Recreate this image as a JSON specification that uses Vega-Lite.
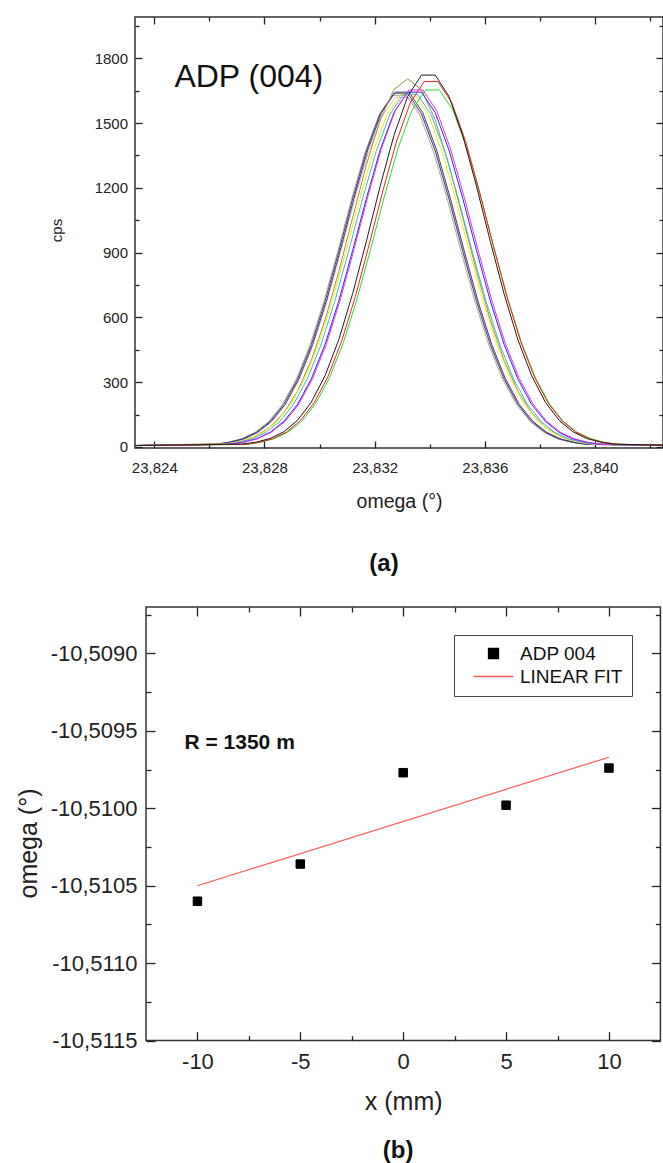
{
  "$schema": "https://vega.github.io/schema/vega-lite/v6.json",
  "background": "white",
  "padding": {"left": 12, "top": 15, "right": 0, "bottom": 0},
  "config": {
    "locale": {"number": {"decimal": ",", "thousands": ".", "grouping": [3], "currency": ["", ""], "minus": "-"}},
    "font": "Liberation Sans",
    "view": {"stroke": "#333333", "strokeWidth": 1.5},
    "axis": {"domain": false, "grid": false, "labelFont": "Liberation Sans", "titleFont": "Liberation Sans", "labelColor": "#222222", "titleColor": "#222222", "tickColor": "#222222", "tickWidth": 1.3, "titleFontWeight": "normal", "labelOverlap": false, "labelFlush": false, "labelBound": false}
  },
  "datasets": {
    "curves": [
      {"s":"gray","x":23.8225,"y":5},{"s":"gray","x":23.82615,"y":12},{"s":"gray","x":23.82665,"y":21},{"s":"gray","x":23.82715,"y":37},{"s":"gray","x":23.82765,"y":67},{"s":"gray","x":23.82815,"y":117},{"s":"gray","x":23.82865,"y":196},{"s":"gray","x":23.82915,"y":312},{"s":"gray","x":23.82965,"y":470},{"s":"gray","x":23.83015,"y":670},{"s":"gray","x":23.83065,"y":900},{"s":"gray","x":23.83115,"y":1141},{"s":"gray","x":23.83165,"y":1363},{"s":"gray","x":23.83215,"y":1534},{"s":"gray","x":23.83265,"y":1628},{"s":"gray","x":23.83315,"y":1628},{"s":"gray","x":23.83365,"y":1534},{"s":"gray","x":23.83415,"y":1363},{"s":"gray","x":23.83465,"y":1141},{"s":"gray","x":23.83515,"y":900},{"s":"gray","x":23.83565,"y":670},{"s":"gray","x":23.83615,"y":470},{"s":"gray","x":23.83665,"y":312},{"s":"gray","x":23.83715,"y":196},{"s":"gray","x":23.83765,"y":117},{"s":"gray","x":23.83815,"y":67},{"s":"gray","x":23.83865,"y":37},{"s":"gray","x":23.83915,"y":21},{"s":"gray","x":23.83965,"y":12},{"s":"gray","x":23.8435,"y":5},
      {"s":"pink","x":23.8225,"y":5},{"s":"pink","x":23.82625,"y":12},{"s":"pink","x":23.82675,"y":21},{"s":"pink","x":23.82725,"y":37},{"s":"pink","x":23.82775,"y":66},{"s":"pink","x":23.82825,"y":116},{"s":"pink","x":23.82875,"y":194},{"s":"pink","x":23.82925,"y":310},{"s":"pink","x":23.82975,"y":467},{"s":"pink","x":23.83025,"y":666},{"s":"pink","x":23.83075,"y":895},{"s":"pink","x":23.83125,"y":1134},{"s":"pink","x":23.83175,"y":1354},{"s":"pink","x":23.83225,"y":1525},{"s":"pink","x":23.83275,"y":1618},{"s":"pink","x":23.83325,"y":1618},{"s":"pink","x":23.83375,"y":1525},{"s":"pink","x":23.83425,"y":1354},{"s":"pink","x":23.83475,"y":1134},{"s":"pink","x":23.83525,"y":895},{"s":"pink","x":23.83575,"y":666},{"s":"pink","x":23.83625,"y":467},{"s":"pink","x":23.83675,"y":310},{"s":"pink","x":23.83725,"y":194},{"s":"pink","x":23.83775,"y":116},{"s":"pink","x":23.83825,"y":66},{"s":"pink","x":23.83875,"y":37},{"s":"pink","x":23.83925,"y":21},{"s":"pink","x":23.83975,"y":12},{"s":"pink","x":23.8435,"y":5},
      {"s":"dkgray","x":23.8225,"y":5},{"s":"dkgray","x":23.8262,"y":12},{"s":"dkgray","x":23.8267,"y":21},{"s":"dkgray","x":23.8272,"y":37},{"s":"dkgray","x":23.8277,"y":67},{"s":"dkgray","x":23.8282,"y":117},{"s":"dkgray","x":23.8287,"y":197},{"s":"dkgray","x":23.8292,"y":314},{"s":"dkgray","x":23.8297,"y":473},{"s":"dkgray","x":23.8302,"y":674},{"s":"dkgray","x":23.8307,"y":906},{"s":"dkgray","x":23.8312,"y":1148},{"s":"dkgray","x":23.8317,"y":1371},{"s":"dkgray","x":23.8322,"y":1544},{"s":"dkgray","x":23.8327,"y":1638},{"s":"dkgray","x":23.8332,"y":1638},{"s":"dkgray","x":23.8337,"y":1544},{"s":"dkgray","x":23.8342,"y":1371},{"s":"dkgray","x":23.8347,"y":1148},{"s":"dkgray","x":23.8352,"y":906},{"s":"dkgray","x":23.8357,"y":674},{"s":"dkgray","x":23.8362,"y":473},{"s":"dkgray","x":23.8367,"y":314},{"s":"dkgray","x":23.8372,"y":197},{"s":"dkgray","x":23.8377,"y":117},{"s":"dkgray","x":23.8382,"y":67},{"s":"dkgray","x":23.8387,"y":37},{"s":"dkgray","x":23.8392,"y":21},{"s":"dkgray","x":23.8397,"y":12},{"s":"dkgray","x":23.8435,"y":5},
      {"s":"navy","x":23.8225,"y":5},{"s":"navy","x":23.82625,"y":12},{"s":"navy","x":23.82675,"y":21},{"s":"navy","x":23.82725,"y":37},{"s":"navy","x":23.82775,"y":67},{"s":"navy","x":23.82825,"y":118},{"s":"navy","x":23.82875,"y":197},{"s":"navy","x":23.82925,"y":315},{"s":"navy","x":23.82975,"y":475},{"s":"navy","x":23.83025,"y":676},{"s":"navy","x":23.83075,"y":909},{"s":"navy","x":23.83125,"y":1151},{"s":"navy","x":23.83175,"y":1375},{"s":"navy","x":23.83225,"y":1548},{"s":"navy","x":23.83275,"y":1643},{"s":"navy","x":23.83325,"y":1643},{"s":"navy","x":23.83375,"y":1548},{"s":"navy","x":23.83425,"y":1375},{"s":"navy","x":23.83475,"y":1151},{"s":"navy","x":23.83525,"y":909},{"s":"navy","x":23.83575,"y":676},{"s":"navy","x":23.83625,"y":475},{"s":"navy","x":23.83675,"y":315},{"s":"navy","x":23.83725,"y":197},{"s":"navy","x":23.83775,"y":118},{"s":"navy","x":23.83825,"y":67},{"s":"navy","x":23.83875,"y":37},{"s":"navy","x":23.83925,"y":21},{"s":"navy","x":23.83975,"y":12},{"s":"navy","x":23.8435,"y":5},
      {"s":"olive","x":23.8225,"y":5},{"s":"olive","x":23.8267,"y":16},{"s":"olive","x":23.8272,"y":28},{"s":"olive","x":23.8277,"y":51},{"s":"olive","x":23.8282,"y":92},{"s":"olive","x":23.8287,"y":158},{"s":"olive","x":23.8292,"y":258},{"s":"olive","x":23.8297,"y":401},{"s":"olive","x":23.8302,"y":588},{"s":"olive","x":23.8307,"y":813},{"s":"olive","x":23.8312,"y":1061},{"s":"olive","x":23.8317,"y":1306},{"s":"olive","x":23.8322,"y":1514},{"s":"olive","x":23.8327,"y":1655},{"s":"olive","x":23.8332,"y":1705},{"s":"olive","x":23.8337,"y":1655},{"s":"olive","x":23.8342,"y":1514},{"s":"olive","x":23.8347,"y":1306},{"s":"olive","x":23.8352,"y":1061},{"s":"olive","x":23.8357,"y":813},{"s":"olive","x":23.8362,"y":588},{"s":"olive","x":23.8367,"y":401},{"s":"olive","x":23.8372,"y":258},{"s":"olive","x":23.8377,"y":158},{"s":"olive","x":23.8382,"y":92},{"s":"olive","x":23.8387,"y":51},{"s":"olive","x":23.8392,"y":28},{"s":"olive","x":23.8397,"y":16},{"s":"olive","x":23.8435,"y":5},
      {"s":"yellow","x":23.8225,"y":5},{"s":"yellow","x":23.82645,"y":12},{"s":"yellow","x":23.82695,"y":21},{"s":"yellow","x":23.82745,"y":37},{"s":"yellow","x":23.82795,"y":67},{"s":"yellow","x":23.82845,"y":117},{"s":"yellow","x":23.82895,"y":196},{"s":"yellow","x":23.82945,"y":313},{"s":"yellow","x":23.82995,"y":472},{"s":"yellow","x":23.83045,"y":672},{"s":"yellow","x":23.83095,"y":903},{"s":"yellow","x":23.83145,"y":1144},{"s":"yellow","x":23.83195,"y":1367},{"s":"yellow","x":23.83245,"y":1539},{"s":"yellow","x":23.83295,"y":1633},{"s":"yellow","x":23.83345,"y":1633},{"s":"yellow","x":23.83395,"y":1539},{"s":"yellow","x":23.83445,"y":1367},{"s":"yellow","x":23.83495,"y":1144},{"s":"yellow","x":23.83545,"y":903},{"s":"yellow","x":23.83595,"y":672},{"s":"yellow","x":23.83645,"y":472},{"s":"yellow","x":23.83695,"y":313},{"s":"yellow","x":23.83745,"y":196},{"s":"yellow","x":23.83795,"y":117},{"s":"yellow","x":23.83845,"y":67},{"s":"yellow","x":23.83895,"y":37},{"s":"yellow","x":23.83945,"y":21},{"s":"yellow","x":23.83995,"y":12},{"s":"yellow","x":23.8435,"y":5},
      {"s":"cyan","x":23.8225,"y":5},{"s":"cyan","x":23.82655,"y":12},{"s":"cyan","x":23.82705,"y":21},{"s":"cyan","x":23.82755,"y":37},{"s":"cyan","x":23.82805,"y":67},{"s":"cyan","x":23.82855,"y":117},{"s":"cyan","x":23.82905,"y":196},{"s":"cyan","x":23.82955,"y":313},{"s":"cyan","x":23.83005,"y":472},{"s":"cyan","x":23.83055,"y":672},{"s":"cyan","x":23.83105,"y":903},{"s":"cyan","x":23.83155,"y":1144},{"s":"cyan","x":23.83205,"y":1367},{"s":"cyan","x":23.83255,"y":1539},{"s":"cyan","x":23.83305,"y":1633},{"s":"cyan","x":23.83355,"y":1633},{"s":"cyan","x":23.83405,"y":1539},{"s":"cyan","x":23.83455,"y":1367},{"s":"cyan","x":23.83505,"y":1144},{"s":"cyan","x":23.83555,"y":903},{"s":"cyan","x":23.83605,"y":672},{"s":"cyan","x":23.83655,"y":472},{"s":"cyan","x":23.83705,"y":313},{"s":"cyan","x":23.83755,"y":196},{"s":"cyan","x":23.83805,"y":117},{"s":"cyan","x":23.83855,"y":67},{"s":"cyan","x":23.83905,"y":37},{"s":"cyan","x":23.83955,"y":21},{"s":"cyan","x":23.84005,"y":12},{"s":"cyan","x":23.8435,"y":5},
      {"s":"blue","x":23.8225,"y":5},{"s":"blue","x":23.8267,"y":12},{"s":"blue","x":23.8272,"y":21},{"s":"blue","x":23.8277,"y":37},{"s":"blue","x":23.8282,"y":67},{"s":"blue","x":23.8287,"y":118},{"s":"blue","x":23.8292,"y":197},{"s":"blue","x":23.8297,"y":315},{"s":"blue","x":23.8302,"y":475},{"s":"blue","x":23.8307,"y":676},{"s":"blue","x":23.8312,"y":909},{"s":"blue","x":23.8317,"y":1151},{"s":"blue","x":23.8322,"y":1375},{"s":"blue","x":23.8327,"y":1548},{"s":"blue","x":23.8332,"y":1643},{"s":"blue","x":23.8337,"y":1643},{"s":"blue","x":23.8342,"y":1548},{"s":"blue","x":23.8347,"y":1375},{"s":"blue","x":23.8352,"y":1151},{"s":"blue","x":23.8357,"y":909},{"s":"blue","x":23.8362,"y":676},{"s":"blue","x":23.8367,"y":475},{"s":"blue","x":23.8372,"y":315},{"s":"blue","x":23.8377,"y":197},{"s":"blue","x":23.8382,"y":118},{"s":"blue","x":23.8387,"y":67},{"s":"blue","x":23.8392,"y":37},{"s":"blue","x":23.8397,"y":21},{"s":"blue","x":23.8402,"y":12},{"s":"blue","x":23.8435,"y":5},
      {"s":"magenta","x":23.8225,"y":5},{"s":"magenta","x":23.82675,"y":12},{"s":"magenta","x":23.82725,"y":21},{"s":"magenta","x":23.82775,"y":38},{"s":"magenta","x":23.82825,"y":68},{"s":"magenta","x":23.82875,"y":118},{"s":"magenta","x":23.82925,"y":199},{"s":"magenta","x":23.82975,"y":317},{"s":"magenta","x":23.83025,"y":477},{"s":"magenta","x":23.83075,"y":680},{"s":"magenta","x":23.83125,"y":914},{"s":"magenta","x":23.83175,"y":1158},{"s":"magenta","x":23.83225,"y":1383},{"s":"magenta","x":23.83275,"y":1558},{"s":"magenta","x":23.83325,"y":1653},{"s":"magenta","x":23.83375,"y":1653},{"s":"magenta","x":23.83425,"y":1558},{"s":"magenta","x":23.83475,"y":1383},{"s":"magenta","x":23.83525,"y":1158},{"s":"magenta","x":23.83575,"y":914},{"s":"magenta","x":23.83625,"y":680},{"s":"magenta","x":23.83675,"y":477},{"s":"magenta","x":23.83725,"y":317},{"s":"magenta","x":23.83775,"y":199},{"s":"magenta","x":23.83825,"y":118},{"s":"magenta","x":23.83875,"y":68},{"s":"magenta","x":23.83925,"y":38},{"s":"magenta","x":23.83975,"y":21},{"s":"magenta","x":23.84025,"y":12},{"s":"magenta","x":23.8435,"y":5},
      {"s":"green","x":23.8225,"y":5},{"s":"green","x":23.82735,"y":12},{"s":"green","x":23.82785,"y":21},{"s":"green","x":23.82835,"y":38},{"s":"green","x":23.82885,"y":68},{"s":"green","x":23.82935,"y":118},{"s":"green","x":23.82985,"y":199},{"s":"green","x":23.83035,"y":317},{"s":"green","x":23.83085,"y":477},{"s":"green","x":23.83135,"y":680},{"s":"green","x":23.83185,"y":914},{"s":"green","x":23.83235,"y":1158},{"s":"green","x":23.83285,"y":1383},{"s":"green","x":23.83335,"y":1558},{"s":"green","x":23.83385,"y":1653},{"s":"green","x":23.83435,"y":1653},{"s":"green","x":23.83485,"y":1558},{"s":"green","x":23.83535,"y":1383},{"s":"green","x":23.83585,"y":1158},{"s":"green","x":23.83635,"y":914},{"s":"green","x":23.83685,"y":680},{"s":"green","x":23.83735,"y":477},{"s":"green","x":23.83785,"y":317},{"s":"green","x":23.83835,"y":199},{"s":"green","x":23.83885,"y":118},{"s":"green","x":23.83935,"y":68},{"s":"green","x":23.83985,"y":38},{"s":"green","x":23.84035,"y":21},{"s":"green","x":23.84085,"y":12},{"s":"green","x":23.8435,"y":5},
      {"s":"red","x":23.8225,"y":5},{"s":"red","x":23.8273,"y":12},{"s":"red","x":23.8278,"y":21},{"s":"red","x":23.8283,"y":38},{"s":"red","x":23.8288,"y":69},{"s":"red","x":23.8293,"y":121},{"s":"red","x":23.8298,"y":203},{"s":"red","x":23.8303,"y":324},{"s":"red","x":23.8308,"y":489},{"s":"red","x":23.8313,"y":696},{"s":"red","x":23.8318,"y":936},{"s":"red","x":23.8323,"y":1186},{"s":"red","x":23.8328,"y":1417},{"s":"red","x":23.8333,"y":1595},{"s":"red","x":23.8338,"y":1692},{"s":"red","x":23.8343,"y":1692},{"s":"red","x":23.8348,"y":1595},{"s":"red","x":23.8353,"y":1417},{"s":"red","x":23.8358,"y":1186},{"s":"red","x":23.8363,"y":936},{"s":"red","x":23.8368,"y":696},{"s":"red","x":23.8373,"y":489},{"s":"red","x":23.8378,"y":324},{"s":"red","x":23.8383,"y":203},{"s":"red","x":23.8388,"y":121},{"s":"red","x":23.8393,"y":69},{"s":"red","x":23.8398,"y":38},{"s":"red","x":23.8403,"y":21},{"s":"red","x":23.8408,"y":12},{"s":"red","x":23.8435,"y":5},
      {"s":"black","x":23.8225,"y":5},{"s":"black","x":23.8272,"y":13},{"s":"black","x":23.8277,"y":22},{"s":"black","x":23.8282,"y":39},{"s":"black","x":23.8287,"y":70},{"s":"black","x":23.8292,"y":123},{"s":"black","x":23.8297,"y":207},{"s":"black","x":23.8302,"y":330},{"s":"black","x":23.8307,"y":497},{"s":"black","x":23.8312,"y":709},{"s":"black","x":23.8317,"y":952},{"s":"black","x":23.8322,"y":1207},{"s":"black","x":23.8327,"y":1442},{"s":"black","x":23.8332,"y":1623},{"s":"black","x":23.8337,"y":1722},{"s":"black","x":23.8342,"y":1722},{"s":"black","x":23.8347,"y":1623},{"s":"black","x":23.8352,"y":1442},{"s":"black","x":23.8357,"y":1207},{"s":"black","x":23.8362,"y":952},{"s":"black","x":23.8367,"y":709},{"s":"black","x":23.8372,"y":497},{"s":"black","x":23.8377,"y":330},{"s":"black","x":23.8382,"y":207},{"s":"black","x":23.8387,"y":123},{"s":"black","x":23.8392,"y":70},{"s":"black","x":23.8397,"y":39},{"s":"black","x":23.8402,"y":22},{"s":"black","x":23.8407,"y":13},{"s":"black","x":23.8435,"y":5}
    ],
    "points": [
      {"x": -10, "omega": -10.5106, "series": "ADP 004"},
      {"x": -5, "omega": -10.51036, "series": "ADP 004"},
      {"x": 0, "omega": -10.50977, "series": "ADP 004"},
      {"x": 5, "omega": -10.50998, "series": "ADP 004"},
      {"x": 10, "omega": -10.50974, "series": "ADP 004"}
    ],
    "fit": [
      {"x": -10, "omega": -10.5105, "series": "LINEAR FIT"},
      {"x": 10, "omega": -10.50967, "series": "LINEAR FIT"}
    ]
  },
  "resolve": {"scale": {"color": "independent"}, "legend": {"color": "independent"}},
  "spacing": 25,
  "vconcat": [
    {
      "spacing": 0,
      "hconcat": [
        {
          "width": 34, "height": 10,
          "data": {"values": []},
          "mark": "point",
          "view": {"stroke": "transparent", "fill": null}
        },
        {
          "width": 528, "height": 431,
          "title": {"text": "(a)", "orient": "bottom", "anchor": "middle", "frame": "group", "dx": -15, "offset": 41, "fontSize": 24, "fontWeight": "bold", "font": "Liberation Sans", "color": "#111111"},
          "layer": [
            {
              "data": {"name": "curves"},
              "mark": {"type": "line", "strokeWidth": 1, "clip": true},
              "encoding": {
                "x": {"field": "x", "type": "quantitative", "scale": {"domain": [23.8233, 23.84247], "nice": false, "zero": false},
                  "axis": {"orient": "bottom", "values": [23.824, 23.826, 23.828, 23.83, 23.832, 23.834, 23.836, 23.838, 23.84, 23.842], "format": ".3f",
                    "labelExpr": "round(datum.value*1000) % 4 == 0 ? datum.label : ''",
                    "tickSize": {"condition": {"test": "round(datum.value*1000) % 4 == 0", "value": -7}, "value": -4},
                    "labelPadding": 19, "labelFontSize": 15, "title": "omega (°)", "titleFontSize": 19.5, "titlePadding": 14}},
                "y": {"field": "y", "type": "quantitative", "scale": {"domain": [-5, 1991], "nice": false, "zero": false},
                  "axis": {"orient": "left", "values": [0, 150, 300, 450, 600, 750, 900, 1050, 1200, 1350, 1500, 1650, 1800, 1950], "format": "d",
                    "labelExpr": "datum.value % 300 == 0 ? datum.label : ''",
                    "tickSize": {"condition": {"test": "datum.value % 300 == 0", "value": -7}, "value": -4},
                    "labelPadding": 14.5, "labelFontSize": 15, "title": "cps", "titleFontSize": 15, "titleX": -78.5, "titleY": 213, "titleAngle": -90, "titleAlign": "center", "titleBaseline": "middle"}},
                "color": {"field": "s", "type": "nominal", "legend": null,
                  "scale": {"domain": ["gray", "pink", "dkgray", "navy", "olive", "yellow", "cyan", "blue", "magenta", "green", "red", "black"],
                            "range": ["#a8a8a8", "#f2b6c6", "#4a4a4a", "#3c3c96", "#9c9640", "#ffe600", "#3cb4f0", "#2828ff", "#e632e6", "#28dc28", "#ff1e1e", "#1e1e1e"]}}
              }
            },
            {
              "data": {"values": [{"label": "ADP (004)", "x": 23.82473, "y": 1665}]},
              "mark": {"type": "text", "align": "left", "baseline": "alphabetic", "fontSize": 32, "font": "Liberation Sans", "color": "#111111"},
              "encoding": {
                "x": {"field": "x", "type": "quantitative",
                  "axis": {"orient": "top", "values": [23.824, 23.826, 23.828, 23.83, 23.832, 23.834, 23.836, 23.838, 23.84, 23.842], "labels": false, "title": null,
                    "tickSize": {"condition": {"test": "round(datum.value*1000) % 4 == 0", "value": -7}, "value": -4}}},
                "y": {"field": "y", "type": "quantitative",
                  "axis": {"orient": "right", "values": [0, 150, 300, 450, 600, 750, 900, 1050, 1200, 1350, 1500, 1650, 1800, 1950], "labels": false, "title": null,
                    "tickSize": {"condition": {"test": "datum.value % 300 == 0", "value": -7}, "value": -4}}},
                "text": {"field": "label"}
              }
            }
          ],
          "resolve": {"axis": {"x": "independent", "y": "independent"}}
        }
      ]
    },
    {
      "spacing": 0,
      "resolve": {"scale": {"color": "independent", "shape": "independent"}, "legend": {"color": "independent", "shape": "independent"}},
      "hconcat": [
        {
          "width": 1, "height": 10,
          "data": {"values": []},
          "mark": "point",
          "view": {"stroke": "transparent", "fill": null}
        },
        {
          "width": 514.4, "height": 433.6,
          "title": {"text": "(b)", "orient": "bottom", "anchor": "middle", "frame": "group", "dx": -5, "offset": 24, "fontSize": 24, "fontWeight": "bold", "font": "Liberation Sans", "color": "#111111"},
          "layer": [
            {
              "data": {"name": "points"},
              "mark": {"type": "point", "filled": false, "fill": "#000000", "fillOpacity": 1, "strokeWidth": 1, "size": 72, "opacity": 1},
              "encoding": {
                "x": {"field": "x", "type": "quantitative", "scale": {"domain": [-12.5, 12.5], "nice": false, "zero": false},
                  "axis": {"orient": "bottom", "values": [-10, -7.5, -5, -2.5, 0, 2.5, 5, 7.5, 10], "format": "d",
                    "labelExpr": "datum.value % 5 == 0 ? datum.label : ''",
                    "tickSize": {"condition": {"test": "datum.value % 5 == 0", "value": -9}, "value": -5},
                    "labelPadding": 20, "labelFontSize": 22, "title": "x (mm)", "titleFontSize": 25, "titlePadding": 13}},
                "y": {"field": "omega", "type": "quantitative", "scale": {"domain": [-10.5115, -10.5087], "nice": false, "zero": false},
                  "axis": {"orient": "left", "values": [-10.5115, -10.51125, -10.511, -10.51075, -10.5105, -10.51025, -10.51, -10.50975, -10.5095, -10.50925, -10.509, -10.50875], "format": ".4f",
                    "labelExpr": "abs(round(datum.value*10000)) % 5 == 0 ? datum.label : ''",
                    "tickSize": {"condition": {"test": "abs(round(datum.value*10000)) % 5 == 0", "value": -9}, "value": -5},
                    "labelPadding": 18, "labelFontSize": 22, "title": "omega (°)", "titleFontSize": 25, "titleX": -118, "titleY": 236, "titleAngle": -90, "titleAlign": "center", "titleBaseline": "middle"}},
                "color": {"field": "series", "type": "nominal",
                  "scale": {"domain": ["ADP 004", "LINEAR FIT"], "range": ["#000000", "#ff5a5a"]},
                  "legend": {"title": null, "orient": "top-right", "offset": 28, "padding": 9, "symbolOffset": 21, "labelOffset": 17, "rowPadding": 3,
                    "symbolSize": 100, "symbolStrokeWidth": 1.3,
                    "strokeColor": "#444444", "fillColor": "white", "labelFontSize": 19, "labelFont": "Liberation Sans", "labelColor": "#111111"}},
                "shape": {"field": "series", "type": "nominal",
                  "scale": {"domain": ["ADP 004", "LINEAR FIT"], "range": ["square", "M-4,0H4"]},
                  "legend": {"title": null, "orient": "top-right", "offset": 28, "padding": 9, "symbolOffset": 21, "labelOffset": 17, "rowPadding": 3,
                    "symbolSize": 100, "symbolStrokeWidth": 1.3,
                    "strokeColor": "#444444", "fillColor": "white", "labelFontSize": 19, "labelFont": "Liberation Sans", "labelColor": "#111111"}}
              }
            },
            {
              "data": {"name": "fit"},
              "mark": {"type": "line", "strokeWidth": 1.2},
              "encoding": {
                "x": {"field": "x", "type": "quantitative", "axis": null},
                "y": {"field": "omega", "type": "quantitative", "axis": null},
                "color": {"field": "series", "type": "nominal", "legend": null}
              }
            },
            {
              "data": {"values": [{"label": "R = 1350 m", "x": -10.63, "omega": -10.50958}]},
              "mark": {"type": "text", "align": "left", "baseline": "middle", "fontSize": 21, "fontWeight": "bold", "font": "Liberation Sans", "color": "#111111"},
              "encoding": {
                "x": {"field": "x", "type": "quantitative",
                  "axis": {"orient": "top", "values": [-10, -7.5, -5, -2.5, 0, 2.5, 5, 7.5, 10], "labels": false, "title": null,
                    "tickSize": {"condition": {"test": "datum.value % 5 == 0", "value": -9}, "value": -5}}},
                "y": {"field": "omega", "type": "quantitative",
                  "axis": {"orient": "right", "values": [-10.5115, -10.51125, -10.511, -10.51075, -10.5105, -10.51025, -10.51, -10.50975, -10.5095, -10.50925, -10.509, -10.50875], "labels": false, "title": null,
                    "tickSize": {"condition": {"test": "abs(round(datum.value*10000)) % 5 == 0", "value": -9}, "value": -5}}},
                "text": {"field": "label"}
              }
            }
          ],
          "resolve": {"axis": {"x": "independent", "y": "independent"}}
        }
      ]
    }
  ]
}
